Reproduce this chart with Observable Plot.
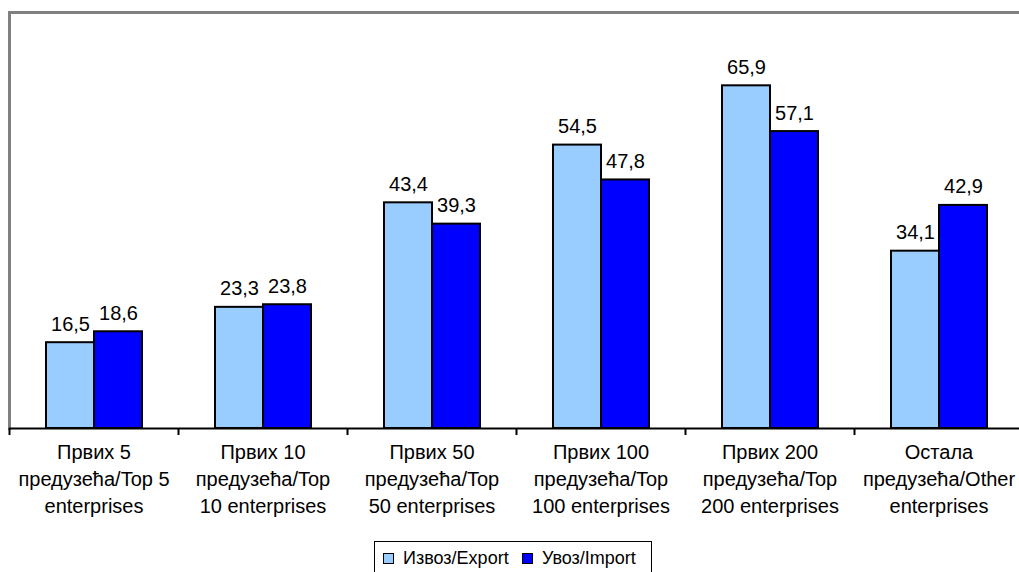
<!DOCTYPE html>
<html>
<head>
<meta charset="utf-8">
<script src="https://cdn.jsdelivr.net/npm/d3@7"></script>
<script src="https://cdn.jsdelivr.net/npm/@observablehq/plot@0.6"></script>
<style>
  html, body { margin: 0; padding: 0; background: #fff; }
  body { width: 1019px; height: 572px; overflow: hidden; position: relative; font-family: Arial, "Liberation Sans", sans-serif; }
  #chart { position: absolute; left: 0; top: 0; }
  #legend { position: absolute; left: 374px; top: 541px; width: 276px; height: 40px; border: 1px solid #000; box-sizing: content-box; font-size: 18px; color: #000; }
  #legend .item { position: absolute; top: 6px; display: flex; align-items: center; }
  #legend .sw { width: 9px; height: 9px; border: 1px solid #000; margin-right: 9px; }
</style>
</head>
<body>
<div id="chart"></div>
<div id="legend"></div>
<script>
const categories = [
  "Првих 5\nпредузећа/Top 5\nenterprises",
  "Првих 10\nпредузећа/Top\n10 enterprises",
  "Првих 50\nпредузећа/Top\n50 enterprises",
  "Првих 100\nпредузећа/Top\n100 enterprises",
  "Првих 200\nпредузећа/Top\n200 enterprises",
  "Остала\nпредузећа/Other\nenterprises"
];
const series = ["Извоз/Export", "Увоз/Import"];
const exportValues = [16.5, 23.3, 43.4, 54.5, 65.9, 34.1];
const importValues = [18.6, 23.8, 39.3, 47.8, 57.1, 42.9];
const colors = ["#99CCFF", "#0000FF"];

const data = [];
categories.forEach((c, i) => {
  data.push({category: c, series: series[0], value: exportValues[i]});
  data.push({category: c, series: series[1], value: importValues[i]});
});

const fmt = v => v.toFixed(1).replace(".", ",");

const chart = Plot.plot({
  width: 1019,
  height: 540,
  marginTop: 12,
  marginBottom: 112,
  marginLeft: 9,
  marginRight: -4,
  style: {fontFamily: "Arial, 'Liberation Sans', sans-serif", fontSize: "20px", color: "#000", background: "transparent", overflow: "visible"},
  fx: {domain: categories, padding: 0, label: null, axis: null},
  x: {domain: series, paddingInner: 0, paddingOuter: 0.7245, axis: null},
  y: {domain: [0, 80], axis: null},
  color: {domain: series, range: colors},
  marks: [
    Plot.ruleY([80], {stroke: "#808080", strokeWidth: 3}),
    Plot.frame({anchor: "left", stroke: "#808080", strokeWidth: 3, fx: () => categories[0]}),
    Plot.barY(data, {fx: "category", x: "series", y: "value", fill: "series", stroke: "#000", strokeWidth: 2}),
    Plot.text(data, {fx: "category", x: "series", y: "value", text: d => fmt(d.value), lineAnchor: "bottom", dy: -12, fontSize: 20, fill: "#000"}),
    Plot.ruleY([0], {stroke: "#000", strokeWidth: 2}),
    Plot.axisFx({anchor: "bottom", tickSize: 7, tickFormat: () => "", dx: -84.5, strokeWidth: 2, stroke: "#000", label: null}),
    Plot.axisFx({anchor: "bottom", tickSize: 0, tickPadding: 11, fontSize: 20, lineHeight: 1.36, tickFormat: d => d, fill: "#000", label: null})
  ]
});
document.getElementById("chart").appendChild(chart);

const legend = document.getElementById("legend");
const lefts = [8, 147];
series.forEach((s, i) => {
  const item = document.createElement("div");
  item.className = "item";
  item.style.left = lefts[i] + "px";
  const sw = document.createElement("div");
  sw.className = "sw";
  sw.style.background = colors[i];
  const t = document.createElement("span");
  t.textContent = s;
  item.appendChild(sw);
  item.appendChild(t);
  legend.appendChild(item);
});
</script>
</body>
</html>
